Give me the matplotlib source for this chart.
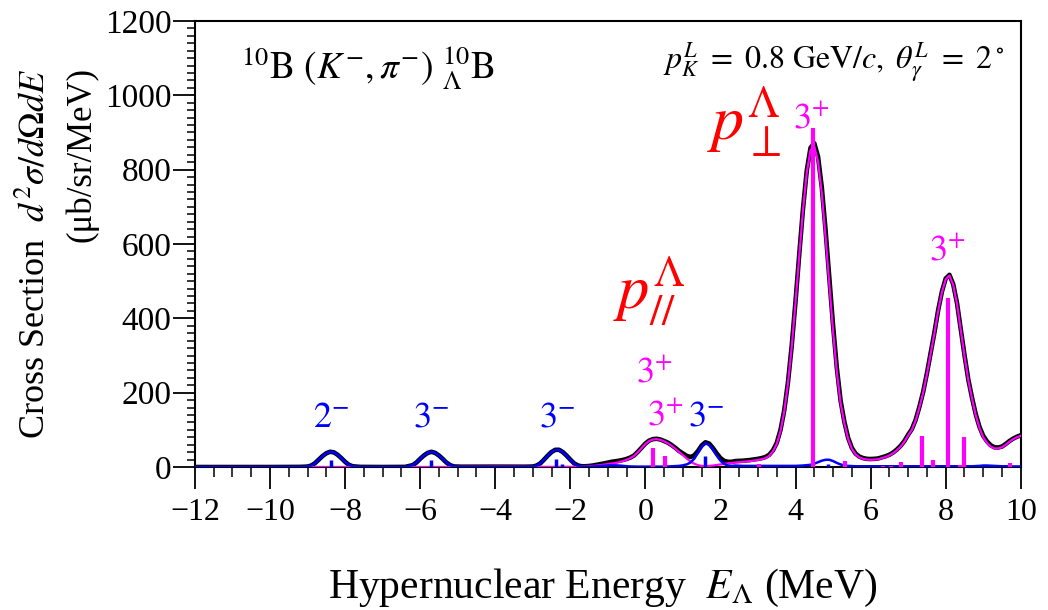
import matplotlib
matplotlib.use("Agg")
import matplotlib.pyplot as plt
import numpy as np
from matplotlib.ticker import MultipleLocator

plt.rcParams['font.family'] = ['Liberation Serif', 'DejaVu Serif']
plt.rcParams['mathtext.fontset'] = 'stix'

# energies where the curves were read (MeV)
energy_low = [-12.0, -10.0, -9.2, -9.0, -8.9, -8.8, -8.7, -8.6, -8.5, -8.4, -8.3, -8.2,
              -8.1, -8.0, -7.9, -7.8, -7.6, -7.0, -6.4, -6.2, -6.1, -6.0, -5.9, -5.8,
              -5.7, -5.6, -5.5, -5.4, -5.3, -5.2, -5.1, -4.9, -4.0, -3.2, -3.0, -2.9,
              -2.8, -2.7, -2.6, -2.5, -2.4, -2.3, -2.2, -2.1, -2.0, -1.9, -1.8, -1.7]
energy_high = np.round(np.arange(-1.6, 10.05, 0.1), 1)
energy = np.concatenate([energy_low, energy_high])

# blue: unnatural-parity contribution
blue_curve = [0, 0, 0.3, 1.2, 4, 10.5, 20, 29.5, 37, 41, 39.5, 33,
              24, 14, 6, 2, 0.3, 0, 0.3, 5, 12, 22, 31, 38,
              41, 38, 31, 22, 12, 5, 1.5, 0.3, 0, 0.3, 1, 3.5,
              9.5, 19.5, 30.5, 40, 46, 46, 40, 30.5, 19.5, 9.5, 3.5, 1,
              0.5, 0.8, 1, 1.8, 2.5, 3.2, 4, 4.5, 4.5, 4,
              3, 2.2, 1.5, 1.2, 1, 1, 1, 1, 1, 1,
              1, 1, 1.5, 2, 2.5, 3, 4.5, 7, 12, 22,
              38, 55, 64, 60, 47, 31, 17, 8, 4, 3,
              4, 3.5, 3, 3, 3, 3, 3, 3, 3, 3,
              3, 3, 3, 3, 3, 3, 3, 3.5, 4, 5,
              6, 9, 13, 17, 19.5, 19.5, 16, 11, 7, 4,
              3, 2.5, 2, 2, 2, 2, 2, 2, 2, 2,
              2, 2, 2, 2, 2, 2, 2, 2, 2, 2,
              2, 2, 2, 2, 2, 2, 2, 2, 2, 2,
              2, 2, 2, 2, 2.5, 3, 4, 4, 3.5, 3,
              2.5, 2, 2, 2, 1.5, 1.5, 1.5]

# magenta: natural-parity contribution
magenta_curve = [0, 0, 0, 0, 0, 0, 0, 0, 0, 0, 0, 0,
                 0, 0, 0, 0, 0, 0, 0, 0, 0, 0, 0, 0,
                 0, 0, 0, 0, 0, 0, 0, 0.5, 1, 0.5, 0.3, 0.3,
                 0.3, 0.3, 0.3, 0.3, 0.3, 0.3, 0.3, 0.3, 0.5, 0.5, 0.8, 1,
                 1.5, 2, 3, 4, 5, 6.5, 8, 9.5, 11, 13,
                 16, 19.5, 24, 30, 40, 51, 62, 70, 74, 75,
                 73, 69, 64, 57, 49, 40, 32, 23, 15, 9,
                 5, 3, 2.5, 3, 4, 5.5, 7, 8.5, 10, 11,
                 12, 13, 14, 15, 16, 17.5, 19, 21, 24, 30,
                 42, 62, 97, 150, 226, 325, 443, 570, 692, 793,
                 853, 862, 822, 735, 618, 490, 365, 256, 172, 118,
                 76, 49, 34, 26, 22, 20, 19.5, 20, 21, 24,
                 27, 31, 37, 45, 55, 68, 85, 100, 125, 160,
                 200, 250, 305, 360, 420, 470, 505, 515, 490, 440,
                 370, 300, 235, 185, 140, 105, 80, 65, 55, 50,
                 50, 53, 60, 68, 75, 80, 84]

# black: total
total_curve = [0, 0, 0.3, 1.2, 4, 10.5, 20, 29.5, 37, 41, 39.5, 33,
               24, 14, 6, 2, 0.3, 0, 0.3, 5, 12, 22, 31, 38,
               41, 38, 31, 22, 12, 5, 1.5, 0.8, 1, 0.8, 1.3, 3.8,
               9.8, 19.8, 30.8, 40.3, 46.3, 46.3, 40.3, 30.8, 20, 10, 4.3, 2,
               2, 2.8, 4, 5.8, 7.5, 9.7, 12, 14, 15.5, 17,
               19, 21.7, 25.5, 31.2, 41, 52, 63, 71, 75, 76,
               74, 70, 65.5, 59, 51.5, 43, 36.5, 30, 27, 31,
               43, 58, 66.5, 63, 51, 36.5, 24, 16.5, 14, 14,
               16, 16.5, 17, 18, 19, 20.5, 22, 24, 27, 33,
               45, 65, 100, 153, 229, 328, 446, 573.5, 696, 798,
               859, 871, 835, 752, 637.5, 509.5, 381, 267, 179, 122,
               79, 51.5, 36, 28, 24, 22, 21.5, 22, 23, 26,
               29, 33, 39, 47, 57, 70, 87, 102, 127, 162,
               202, 252, 307, 362, 422, 472, 507, 517, 492, 442,
               372, 302, 237, 187, 142.5, 108, 84, 69, 58.5, 53,
               52.5, 55, 62, 70, 76.5, 81.5, 85.5]

# stick spectra
magenta_sticks_e = [0.19, 0.52, 3.02, 4.47, 5.31, 6.33, 6.55, 6.80, 7.38, 7.67, 8.06, 8.38, 8.49, 9.71]
magenta_sticks_h = [52, 30, 8, 912, 16, 3, 3, 14, 83, 19, 455, 5, 80, 10]
blue_sticks_e = [-8.38, -5.70, -2.37, -2.23, 1.58, 4.87]
blue_sticks_h = [19, 19, 21, 8, 30, 7]

# state labels: (text, energy, height, colour)
state_labels = [(r'$2^{-}$', -8.38, 108, 'blue'),
                (r'$3^{-}$', -5.70, 108, 'blue'),
                (r'$3^{-}$', -2.36, 108, 'blue'),
                (r'$3^{+}$', 0.52, 113, 'magenta'),
                (r'$3^{-}$', 1.62, 113, 'blue'),
                (r'$3^{+}$', 0.24, 229, 'magenta'),
                (r'$3^{+}$', 4.42, 912, 'magenta'),
                (r'$3^{+}$', 8.04, 557, 'magenta')]

BLUE = '#0000ff'
MAGENTA = '#ff00ff'
RED = '#ff0000'

fig = plt.figure(figsize=(10.48, 6.10), dpi=100)
ax = fig.add_axes([0.186, 0.2344, 0.788, 0.7312])

ax.plot(energy, total_curve, color='black', lw=3.3, zorder=2)
ax.plot(energy, magenta_curve, color=MAGENTA, lw=1.6, zorder=3)
ax.plot(energy, blue_curve, color=BLUE, lw=1.8, zorder=3)
ax.vlines(magenta_sticks_e, 0, magenta_sticks_h, color=MAGENTA, lw=3, zorder=4)
ax.vlines(blue_sticks_e, 0, blue_sticks_h, color=BLUE, lw=2.5, zorder=4)

for txt, e, h, c in state_labels:
    ax.text(e, h, txt, color=BLUE if c == 'blue' else MAGENTA, fontsize=26,
            ha='center', va='baseline')

ax.text(1.64, 880, r'$p_{\perp}^{\Lambda}$', color=RED, fontsize=46, ha='left', va='baseline')
ax.text(-0.87, 428, r'$p_{//}^{\Lambda}$', color=RED, fontsize=45, ha='left', va='baseline')

ax.text(0.056, 0.868, r'${}^{10}\mathrm{B}\ (K^{-},\pi^{-})\ {}^{10}_{\Lambda}\mathrm{B}$',
        transform=ax.transAxes, fontsize=27, ha='left', va='baseline')
ax.text(0.98, 0.895, r'$p_K^L\ =\ 0.8\ \mathrm{GeV}/c,\ \theta_\gamma^L\ =\ 2^\circ$',
        transform=ax.transAxes, fontsize=23, ha='right', va='baseline')

ax.set_xlim(-12, 10)
ax.set_ylim(0, 1200)
ax.xaxis.set_major_locator(MultipleLocator(2))
ax.xaxis.set_minor_locator(MultipleLocator(0.5))
ax.yaxis.set_major_locator(MultipleLocator(200))
ax.yaxis.set_minor_locator(MultipleLocator(20))
ax.tick_params(which='major', direction='out', length=16, width=1.3)
ax.tick_params(which='minor', direction='out', width=1.1)
ax.tick_params(axis='x', which='minor', length=7)
ax.tick_params(axis='y', which='minor', length=6)
ax.tick_params(axis='y', which='major', labelsize=24, pad=1)
ax.tick_params(axis='x', which='major', labelsize=23, pad=6)
for s in ax.spines.values():
    s.set_linewidth(1.5)

fig.text(0.575, 0.02, r'Hypernuclear Energy  $E_{\Lambda}$ (MeV)', fontsize=30,
         ha='center', va='baseline')
fig.text(0.034, 0.584, r'Cross Section  $d^2\sigma/d\Omega dE$', fontsize=26,
         rotation=90, ha='center', va='center')
fig.text(0.078, 0.746, '(μb/sr/MeV)', fontsize=25, rotation=90, ha='center', va='center')

fig.savefig('out.png', dpi=100)
